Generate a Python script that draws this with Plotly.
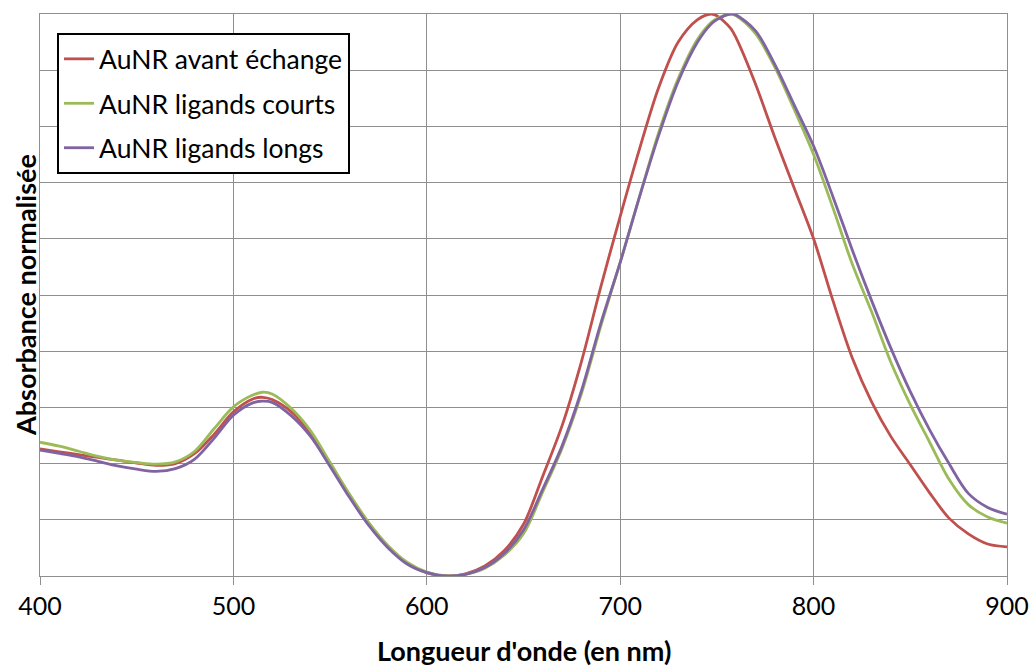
import plotly.graph_objects as go

# Longueur d'onde (nm) et absorbance normalisée
wl = [400, 410, 420, 430, 440, 450, 460, 470, 480, 490, 500, 510, 515, 520, 530,
      540, 550, 560, 570, 580, 590, 600, 610, 620, 630, 640, 650, 660, 670, 680,
      690, 700, 710, 720, 730, 740, 747, 750, 757, 760, 770, 780, 790, 800, 810,
      820, 830, 840, 850, 860, 870, 880, 890, 900]

avant = [0.226, 0.221, 0.216, 0.211, 0.206, 0.201, 0.197, 0.200, 0.218, 0.252, 0.292,
         0.315, 0.318, 0.314, 0.292, 0.253, 0.200, 0.142, 0.092, 0.052, 0.022, 0.006,
         0.000, 0.004, 0.018, 0.045, 0.092, 0.178, 0.268, 0.382, 0.515, 0.640, 0.760,
         0.870, 0.950, 0.990, 1.000, 0.997, 0.975, 0.957, 0.875, 0.780, 0.690, 0.600,
         0.490, 0.388, 0.310, 0.248, 0.198, 0.148, 0.103, 0.075, 0.057, 0.052]

courts = [0.238, 0.231, 0.222, 0.213, 0.206, 0.202, 0.199, 0.203, 0.222, 0.262, 0.301,
          0.322, 0.327, 0.324, 0.298, 0.258, 0.202, 0.146, 0.095, 0.054, 0.024, 0.007,
          0.000, 0.003, 0.014, 0.037, 0.075, 0.150, 0.228, 0.325, 0.445, 0.558, 0.675,
          0.790, 0.885, 0.955, 0.985, 0.992, 1.000, 0.997, 0.965, 0.905, 0.830, 0.750,
          0.655, 0.555, 0.470, 0.380, 0.305, 0.238, 0.172, 0.127, 0.105, 0.094]

longs = [0.224, 0.218, 0.212, 0.204, 0.196, 0.190, 0.186, 0.191, 0.208, 0.245, 0.286,
         0.308, 0.311, 0.309, 0.285, 0.248, 0.195, 0.140, 0.090, 0.050, 0.021, 0.006,
         0.000, 0.003, 0.015, 0.040, 0.082, 0.155, 0.232, 0.330, 0.450, 0.558, 0.675,
         0.785, 0.880, 0.950, 0.982, 0.990, 1.000, 0.998, 0.970, 0.910, 0.838, 0.765,
         0.675, 0.580, 0.490, 0.405, 0.328, 0.260, 0.200, 0.147, 0.122, 0.110]

series = [
    ("AuNR avant échange", avant, "#C0504D"),
    ("AuNR ligands courts", courts, "#9BBB59"),
    ("AuNR ligands longs", longs, "#8064A2"),
]

fig = go.Figure()
for i, (name, vals, col) in enumerate(series):
    fig.add_trace(go.Scatter(
        x=wl, y=vals, name=name, mode="lines", legendgroup=str(i),
        line=dict(color=col, width=2.8, shape="spline", smoothing=0.9),
    ))

grid = "#8f8f8f"
font = "Lato, 'Open Sans', sans-serif"

fig.update_layout(
    width=1031, height=666,
    margin=dict(l=40, r=24, t=14, b=90),
    paper_bgcolor="white", plot_bgcolor="white",
    font=dict(family=font, size=25, color="black"),
    legend=dict(
        x=0.0176, y=0.966, xanchor="left", yanchor="top",
        bgcolor="white", bordercolor="black", borderwidth=2,
        tracegroupgap=7, font=dict(size=26.5),
    ),
    showlegend=True,
)

fig.update_xaxes(
    range=[400, 900], dtick=100, tick0=400,
    showgrid=True, gridcolor=grid, gridwidth=1,
    showline=True, linecolor=grid, linewidth=1, mirror=True,
    ticks="outside", ticklen=8, tickcolor=grid,
    tickfont=dict(size=25), automargin=False, zeroline=False,
)
fig.update_yaxes(
    range=[0, 1], dtick=0.1, tick0=0,
    showgrid=True, gridcolor=grid, gridwidth=1,
    showline=True, linecolor=grid, linewidth=1, mirror=True,
    showticklabels=False, automargin=False, zeroline=False,
)

# titres des axes placés à la main
fig.add_annotation(text="<b>Longueur d'onde (en nm)</b>", xref="paper", yref="paper",
                   x=0.5, y=-0.1317, xanchor="center", yanchor="middle",
                   showarrow=False, font=dict(size=27))
fig.add_annotation(text="<b>Absorbance normalisée</b>", xref="paper", yref="paper",
                   x=-0.0155, y=0.5, xanchor="center", yanchor="middle", textangle=-90,
                   showarrow=False, font=dict(size=27))

# pas de marge ni de barres de défilement autour du graphique, pas de barre d'outils
fig.write_html("out.html", config={"displayModeBar": False},
               post_script="document.body.style.margin='0';document.body.style.overflow='hidden';")
